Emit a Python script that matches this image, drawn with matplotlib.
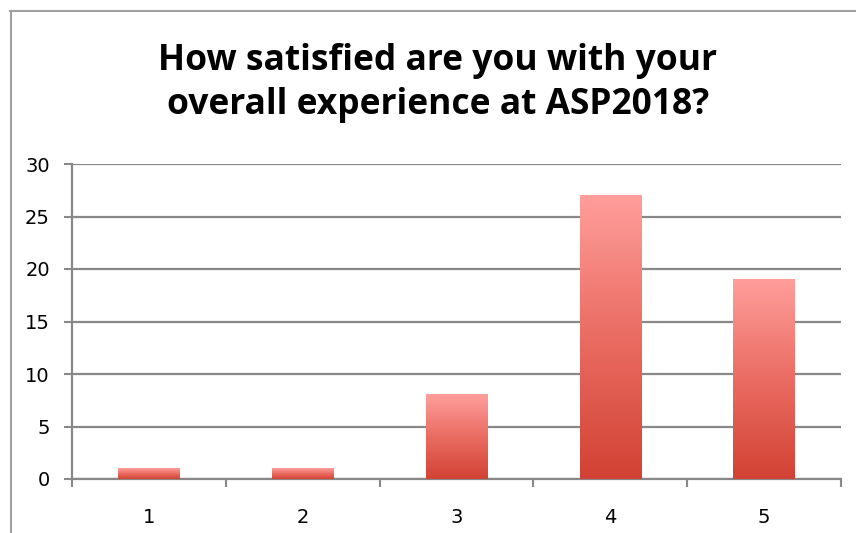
import numpy as np
import matplotlib
matplotlib.use("Agg")
import matplotlib.pyplot as plt
from matplotlib.colors import LinearSegmentedColormap
from matplotlib.lines import Line2D

# survey answers, rating 1..5
ratings = [1, 2, 3, 4, 5]
counts = [1, 1, 8, 27, 19]
title = "How satisfied are you with your\noverall experience at ASP2018?"

fig = plt.figure(figsize=(8.56, 5.33), dpi=100)
ax = fig.add_axes([72 / 856, 1 - 479 / 533, (841 - 72) / 856, (479 - 164) / 533])

grey = "#888888"
cmap = LinearSegmentedColormap.from_list("bar", ["#d24234", "#ea6c62", "#ff9e9b"])
grad = np.linspace(0, 1, 256).reshape(-1, 1)

bw = 0.4
for r, c in zip(ratings, counts):
    ax.imshow(grad, cmap=cmap, origin="lower", aspect="auto",
              extent=[r - bw / 2, r + bw / 2, 0, c], zorder=3)

ax.set_xlim(0.5, 5.5)
ax.set_ylim(0, 30)
ax.set_yticks(range(0, 31, 5))
ax.set_xticks(ratings)
ax.set_xticks(np.arange(0.5, 6, 1), minor=True)
ax.tick_params(axis="x", which="major", length=0, pad=21, labelsize=14)
ax.tick_params(axis="x", which="minor", length=6, width=1.5, color=grey)
ax.tick_params(axis="y", length=6, width=1.5, color=grey, pad=10, labelsize=14)

ax.grid(axis="y", color=grey, linewidth=1.6, zorder=1)
ax.set_axisbelow(True)
for s in ["top", "right"]:
    ax.spines[s].set_visible(False)
for s in ["left", "bottom"]:
    ax.spines[s].set_color(grey)
    ax.spines[s].set_linewidth(1.6)

fig.text(438 / 856, 1 - 83 / 533, title, ha="center", va="center",
         fontsize=25.5, fontweight="bold", family="Open Sans", linespacing=1.3)

# chart frame (cut at right/bottom)
fig.add_artist(Line2D([10.5 / 856, 10.5 / 856], [0, 1 - 11 / 533], color="#a0a0a0", lw=1.5))
fig.add_artist(Line2D([10 / 856, 1], [1 - 11 / 533, 1 - 11 / 533], color="#a0a0a0", lw=1.5))

fig.savefig("out.png", dpi=100)
